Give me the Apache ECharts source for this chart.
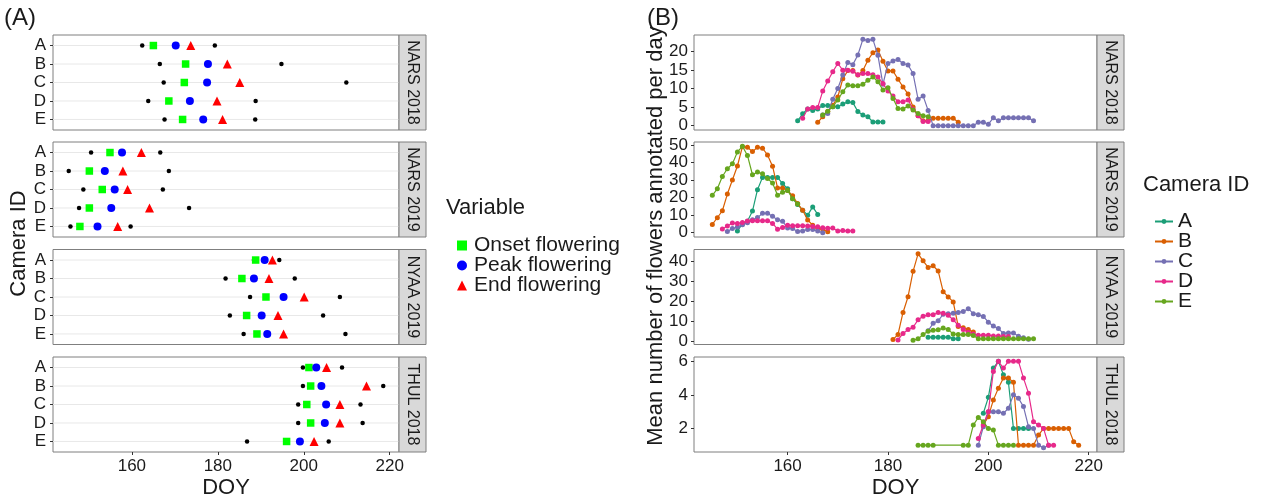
<!DOCTYPE html>
<html><head><meta charset="utf-8">
<script src="https://cdn.jsdelivr.net/npm/echarts@6/dist/echarts.min.js"></script>
<style>html,body{margin:0;padding:0;background:#fff}#c{width:1266px;height:498px}</style>
</head><body><div id="c"></div>
<script>
// ---------- data ----------
const facets = ['NARS 2018', 'NARS 2019', 'NYAA 2019', 'THUL 2018'];
const cameras = ['A', 'B', 'C', 'D', 'E'];
const variables = ['Onset flowering', 'Peak flowering', 'End flowering'];
const xTicks = [160, 180, 200, 220];

// Panel A: DOY per camera (A..E), one row per facet
const firstDay = [
  [162.4, 166.5, 167.4, 163.8, 167.6],
  [150.5, 145.3, 148.7, 147.7, 145.7],
  [188.4, 181.8, 187.5, 182.8, 186.0],
  [199.8, 199.8, 198.7, 198.7, 186.8]];
const onsetDay = [
  [165.0, 172.5, 172.2, 168.6, 171.8],
  [154.9, 150.1, 153.1, 150.1, 147.9],
  [188.8, 185.6, 191.2, 186.7, 189.1],
  [201.2, 201.6, 200.7, 201.6, 196.0]];
const peakDay = [
  [170.2, 177.7, 177.5, 173.5, 176.6],
  [157.7, 153.7, 156.0, 155.2, 152.0],
  [190.9, 188.4, 195.3, 190.2, 191.5],
  [202.9, 204.1, 205.2, 204.9, 199.1]];
const endDay = [
  [173.7, 182.2, 185.1, 179.8, 181.1],
  [162.2, 157.9, 159.0, 164.1, 156.7],
  [192.7, 191.9, 200.1, 194.0, 195.3],
  [205.3, 214.6, 208.4, 208.4, 202.4]];
const lastDay = [
  [179.3, 194.8, 209.9, 188.8, 188.7],
  [166.6, 168.6, 167.2, 173.3, 159.7],
  [194.3, 197.9, 208.4, 204.5, 209.7],
  [208.9, 218.5, 213.2, 213.7, 205.8]];

// Panel B: daily mean counts; first DOY per camera and consecutive daily values ('-' = no value)
const yTicksB = [[0, 5, 10, 15, 20], [0, 10, 20, 30, 40, 50], [0, 10, 20, 30, 40], [2, 4, 6]];

const startNARS2018 = [162, 166, 167, 163, 167];
const countNARS2018 = [
  [1.3, 3.2, 4.5, 4.1, 4.5, 5.4, 5.4, 5.1, 5.1, 5.8, 6.4, 6.2, 3.8, 2.9, 2.4, 1.0, 1.0, 1.0],
  [0.9, 2.4, 3.8, 5.5, 7.7, 12.6, 14.8, 14.8, 13.6, 14.8, 17.6, 19.6, 20.3, 17.3, 14.7, 14.7, 12.5, 10.4, 8.5, 5.0, 2.7, 1.3, 1.3, 2.0, 2.0, 2.0, 2.0, 2.0, 0.9],
  [2.9, 3.3, 7.1, 10.0, 13.6, 17.0, 16.4, 19.0, 23.2, 22.9, 23.2, 18.9, 11.1, 16.7, 17.4, 17.8, 16.7, 16.3, 14.0, 7.1, 8.0, 4.1, 0, 0, 0, 0, 0, 0, 0, 0, 0, 0.9, 0.9, 0.4, 2.1, 1.3, 2.1, 2.1, 2.1, 2.1, 2.1, 2.1, 1.3],
  [2.0, 4.5, 4.9, 4.9, 9.3, 12.0, 14.5, 16.7, 14.9, 14.9, 14.6, 13.7, 14.0, 14.0, 13.7, 13.1, 11.3, 9.3, 8.0, 6.4, 6.4, 6.9, 4.4, 2.7, 1.1, 1.1],
  [2.9, 3.9, 5.1, 6.9, 9.1, 10.9, 10.7, 10.7, 11.1, 12.2, 13.1, 11.8, 9.6, 10.2, 7.3, 4.6, 4.5, 5.3, 4.2, 3.3, 2.7, 2.4]];

const startNARS2019 = [150, 145, 148, 147, 145];
const countNARS2019 = [
  [1.0, 5.0, 6.5, 12.3, 24.5, 31.5, 31.5, 31.5, 31.5, 28.0, 25.0, 19.4, 16.0, 12.8, 10.0, 14.7, 10.4],
  [4.7, 8.5, 12.5, 22.0, 30.0, 38.0, 49.0, 48.7, 46.2, 48.7, 48.1, 44.3, 37.9, 25.5, 25.5, 24.0, 21.0, 16.6, 12.8, 7.2, 4.3, 2.5, 1.9, 0.5],
  [0.7, 2.4, 3.2, 4.5, 5.7, 7.3, 8.6, 11.0, 11.0, 9.3, 7.3, 6.5, 2.7, 2.4, 0.7, 1.0, 1.8, 1.8, 0.9, 0],
  [2.1, 3.8, 5.5, 5.3, 5.8, 6.6, 6.8, 6.8, 6.8, 6.8, 5.3, 2.0, 3.0, 4.2, 4.0, 4.0, 4.0, 3.8, 3.5, 3.4, 2.8, 2.5, 2.6, 1.0, 1.2, 1.0, 1.0],
  [21.3, 25.0, 32.0, 36.4, 39.2, 46.0, 49.2, 44.0, 33.0, 34.5, 33.6, 30.8, 28.3, 21.3, 23.0, 24.0, 19.4, 16.4]];

const startNYAA2019 = [188, 181, 188, 182, 185];
const countNYAA2019 = [
  [2.0, 2.0, 2.0, 2.0, 2.0, 1.2, 1.2],
  [0.8, 3.4, 14.4, 22.3, 35.0, 43.8, 40.3, 37.0, 37.8, 35.2, 24.8, 22.2, 19.7, 7.4, 6.7, 5.8, 4.6],
  [5.2, 9.0, 10.2, 13.5, 13.8, 14.0, 14.4, 14.9, 16.3, 13.8, 13.2, 12.4, 9.5, 7.6, 6.3, 3.9, 4.1, 4.1, 2.5, 1.7, 1.0],
  [0.6, 3.9, 5.8, 7.0, 10.7, 12.5, 13.2, 13.2, 14.4, 14.0, 13.0, 10.7, 8.0, 5.8, 4.5, 3.6, 3.0, 3.0, 3.0, 2.6, 2.6, 2.3, 2.3],
  [0.5, 1.2, 3.3, 5.0, 5.5, 5.7, 6.6, 5.8, 3.6, 3.3, 3.3, 3.3, 2.9, 1.2, 1.2, 1.2, 1.2, 1.2, 1.2, 1.2, 1.2, 1.2, 1.2, 1.2, 1.2]];

const startTHUL2018 = [199, 199, 198, 198, 186];
const countTHUL2018 = [
  [2.9, 3.85, 5.6, 6.0, 5.2, 4.75, 2.0, 2.0, 2.0, 2.0],
  [2.2, 2.7, 3.7, 4.4, 5.0, 5.0, 4.75, 1, 1, 1, 1, 1.6, 2, 2, 2, 2, 2, 2, 1.2, 1.0],
  [1.0, 2.1, 3.0, 3.0, 3.0, 2.9, 3.2, 4.0, 3.8, 3.3, 2.1, 2.0, 1.0, 0.85, 1.0],
  [1.4, 2.2, 3.0, 5.4, 6.0, 5.6, 6, 6, 6, 5.0, 4.1, 2.4, 2.2, 2.0, 1, 1],
  [1, 1, 1, 1, '-', '-', '-', '-', '-', 1, 1, 2.2, 2.65, 2.4, 2.0, 1.9, 1, 1, 1, 1]];

// ---------- layout / style ----------
const starts = [startNARS2018, startNARS2019, startNYAA2019, startTHUL2018];
const counts = [countNARS2018, countNARS2019, countNYAA2019, countTHUL2018];
const camColors = ['#1B9E77', '#D95F02', '#7570B3', '#E7298A', '#66A61E'];
const FONT = '"Liberation Sans", Arial, sans-serif';
const TOPS = [35, 142, 249.5, 357];
const PH = 95;
const A_LEFT = 53, A_W = 346, B_LEFT = 694, B_W = 403, STRIP_W = 27;
const BORDER = '#7f7f7f';
const TXT = '#1a1a1a';
const TICK_FS = 17, TITLE_FS = 22;

function padRange(lo, hi, f) { const d = (hi - lo) * f; return [lo - d, hi + d]; }
const xRangeA = padRange(145.3, 218.5, 0.05);
const xRangeB = padRange(145, 218, 0.05);

const grid = [], xAxis = [], yAxis = [], series = [], graphic = [];

facets.forEach((fname, f) => {
  grid.push({ left: A_LEFT, top: TOPS[f], width: A_W, height: PH, show: true, borderColor: BORDER, borderWidth: 1, outerBoundsMode: 'none', containLabel: false });
  grid.push({ left: B_LEFT, top: TOPS[f], width: B_W, height: PH, show: true, borderColor: BORDER, borderWidth: 1, outerBoundsMode: 'none', containLabel: false });
});

function makeX(gi, range, bottom) {
  return {
    type: 'value', gridIndex: gi, min: range[0], max: range[1],
    axisLine: { show: false }, splitLine: { show: false },
    axisTick: { show: bottom, length: 3, lineStyle: { color: '#333' }, customValues: xTicks },
    axisLabel: { show: bottom, customValues: xTicks, fontSize: TICK_FS, color: TXT, fontFamily: FONT, margin: 6 },
    name: bottom ? 'DOY' : '', nameLocation: 'middle', nameGap: 25,
    nameTextStyle: { fontSize: TITLE_FS, color: TXT, fontFamily: FONT }
  };
}

const bCounts = counts.map(cs => cs.flat().filter(v => v !== '-'));

facets.forEach((fname, f) => {
  const bottom = f === facets.length - 1;
  const gA = 2 * f, gB = 2 * f + 1;
  xAxis.push(makeX(gA, xRangeA, bottom));
  xAxis.push(makeX(gB, xRangeB, bottom));
  yAxis.push({
    type: 'value', gridIndex: gA, inverse: true, min: 0.43, max: 5.57,
    axisLine: { show: false }, splitLine: { show: false },
    axisTick: { show: true, length: 3, lineStyle: { color: '#333' }, customValues: [1, 2, 3, 4, 5] },
    axisLabel: { customValues: [1, 2, 3, 4, 5], formatter: v => cameras[v - 1], fontSize: TICK_FS, color: TXT, fontFamily: FONT, margin: 7, hideOverlap: false }
  });
  const lo = Math.min(...bCounts[f]), hi = Math.max(...bCounts[f]);
  const yr = padRange(lo, hi, 0.05);
  yAxis.push({
    type: 'value', gridIndex: gB, min: yr[0], max: yr[1],
    axisLine: { show: false }, splitLine: { show: false },
    axisTick: { show: true, length: 3, lineStyle: { color: '#333' }, customValues: yTicksB[f] },
    axisLabel: { customValues: yTicksB[f], fontSize: TICK_FS, color: TXT, fontFamily: FONT, margin: 6, hideOverlap: false }
  });
});

facets.forEach((fname, f) => {
  const xi = 2 * f, yi = 2 * f;
  // horizontal gridlines (panel A), one per camera row
  const gl = [];
  cameras.forEach((c, i) => { gl.push([xRangeA[0], i + 1], [xRangeA[1], i + 1], [xRangeA[1], '-']); });
  series.push({
    type: 'line', name: '_grid', xAxisIndex: xi, yAxisIndex: yi, data: gl, z: 1, silent: true,
    showSymbol: false, symbol: 'none', connectNulls: false,
    lineStyle: { color: '#e8e8e8', width: 1 }
  });
  const pts = arr => cameras.map((c, i) => [arr[f][i], i + 1]);
  series.push({ type: 'scatter', name: 'First/last', xAxisIndex: xi, yAxisIndex: yi, z: 2,
    data: pts(firstDay).concat(pts(lastDay)), symbol: 'circle', symbolSize: 4.5, itemStyle: { color: '#000', opacity: 1 } });
  series.push({ type: 'scatter', name: variables[0], xAxisIndex: xi, yAxisIndex: yi, z: 3,
    data: pts(onsetDay), symbol: 'rect', symbolSize: 7.5, itemStyle: { color: '#00FF00', opacity: 1 } });
  series.push({ type: 'scatter', name: variables[1], xAxisIndex: xi, yAxisIndex: yi, z: 3,
    data: pts(peakDay), symbol: 'circle', symbolSize: 8, itemStyle: { color: '#0000FF', opacity: 1 } });
  series.push({ type: 'scatter', name: variables[2], xAxisIndex: xi, yAxisIndex: yi, z: 3,
    data: pts(endDay), symbol: 'triangle', symbolSize: 9, itemStyle: { color: '#FF0000', opacity: 1 } });
  // Panel B lines
  cameras.forEach((c, ci) => {
    series.push({
      type: 'line', name: c, xAxisIndex: 2 * f + 1, yAxisIndex: 2 * f + 1, z: 2 + ci * 0.01,
      data: counts[f][ci].map((v, k) => [starts[f][ci] + k, v]),
      connectNulls: true, symbol: 'circle', symbolSize: 5, showSymbol: true,
      lineStyle: { width: 1.2, color: camColors[ci] }, itemStyle: { color: camColors[ci], opacity: 1 }
    });
  });
  // facet strips
  [A_LEFT + A_W, B_LEFT + B_W].forEach(sx => {
    graphic.push({ type: 'rect', shape: { x: sx, y: TOPS[f], width: STRIP_W, height: PH },
      style: { fill: '#d9d9d9', stroke: BORDER, lineWidth: 1 }, z: 10 });
    graphic.push({ type: 'text', x: sx + STRIP_W / 2, y: TOPS[f] + PH / 2, rotation: -Math.PI / 2, z: 11,
      style: { text: fname, font: '16px ' + FONT, fill: TXT, align: 'center', verticalAlign: 'middle' } });
  });
});

const mid = TOPS[0] + (TOPS[3] + PH - TOPS[0]) / 2;
const tfont = TITLE_FS + 'px ' + FONT;
graphic.push(
  { type: 'text', x: 4, y: 18, style: { text: '(A)', font: '24px ' + FONT, fill: TXT, align: 'left', verticalAlign: 'middle' } },
  { type: 'text', x: 647, y: 18, style: { text: '(B)', font: '24px ' + FONT, fill: TXT, align: 'left', verticalAlign: 'middle' } },
  { type: 'text', x: 19, y: mid, rotation: Math.PI / 2, style: { text: 'Camera ID', font: tfont, fill: TXT, align: 'center', verticalAlign: 'middle' } },
  { type: 'text', x: 656, y: 236, rotation: Math.PI / 2, style: { text: 'Mean number of flowers annotated per day', font: tfont, fill: TXT, align: 'center', verticalAlign: 'middle' } },
  { type: 'text', x: 446, y: 208, style: { text: 'Variable', font: tfont, fill: TXT, align: 'left', verticalAlign: 'middle' } },
  { type: 'text', x: 1143, y: 185, style: { text: 'Camera ID', font: tfont, fill: TXT, align: 'left', verticalAlign: 'middle' } }
);

const option = {
  animation: false,
  textStyle: { fontFamily: FONT },
  grid, xAxis, yAxis, series, graphic,
  legend: [
    { data: variables, orient: 'vertical', left: 452, top: 230, itemWidth: 10, itemHeight: 10, itemGap: -1,
      textStyle: { fontSize: 21, color: TXT, fontFamily: FONT, padding: [0, 0, 0, 2] }, selectedMode: false },
    { data: cameras, orient: 'vertical', left: 1149, top: 206, itemWidth: 18, itemHeight: 6, itemGap: -1,
      textStyle: { fontSize: 21, color: TXT, fontFamily: FONT }, selectedMode: false }
  ]
};
echarts.init(document.getElementById('c'), null, { renderer: 'canvas' }).setOption(option);
</script></body></html>
